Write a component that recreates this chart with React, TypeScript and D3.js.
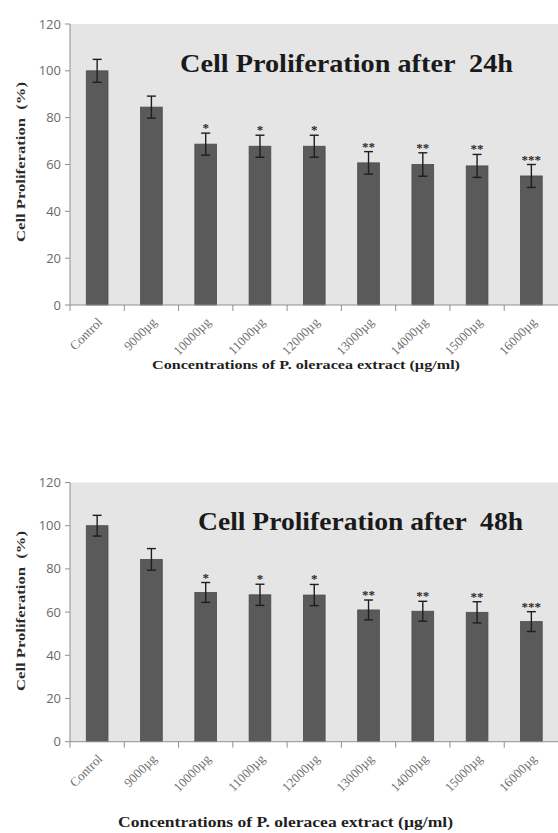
import React from "react";
import * as d3 from "d3";

const categories = ["Control", "9000µg", "10000µg", "11000µg", "12000µg", "13000µg", "14000µg", "15000µg", "16000µg"];
const values24 = [100, 84.5, 68.7, 67.8, 67.8, 60.7, 60, 59.4, 55.1];
const errors24 = [4.9, 4.7, 4.7, 4.7, 4.7, 4.8, 5, 4.9, 4.9];
const values48 = [100, 84.4, 69.1, 68, 67.9, 61, 60.4, 59.9, 55.6];
const errors48 = [4.8, 5, 4.6, 4.9, 4.9, 4.6, 4.6, 4.9, 4.6];
const stars = ["", "", "*", "*", "*", "**", "**", "**", "***"];
const yTicks = [0, 20, 40, 60, 80, 100, 120];

const W = 558;
const H = 833;

type Layout = {
  top: number;
  bottom: number;
  title: string;
  titleX: number;
  titleY: number;
  titleLen: number;
  yTitleY: number;
  xTitleX: number;
  xTitleY: number;
  xTitleLen: number;
  xTitleSize: number;
};

const PLOT_LEFT = 70;
const PLOT_RIGHT = 558.5;

function Chart({ values, errors, L }: { values: number[]; errors: number[]; L: Layout }) {
  const x = d3.scaleBand<string>().domain(categories).range([PLOT_LEFT, PLOT_RIGHT]).paddingInner(0.6).paddingOuter(0.3);
  const xb = d3.scaleBand<string>().domain(categories).range([PLOT_LEFT, PLOT_RIGHT]);
  const y = d3.scaleLinear().domain([0, 120]).range([L.bottom, L.top]);
  const axisColor = "#8f8f8f";
  const labelColor = "#6a6a6a";
  return (
    <g>
      <rect x={PLOT_LEFT} y={L.top} width={PLOT_RIGHT - PLOT_LEFT} height={L.bottom - L.top} fill="#e5e5e5" />
      {categories.map((c, i) => (
        <rect
          key={c}
          x={x(c)}
          y={y(values[i])}
          width={x.bandwidth()}
          height={L.bottom - y(values[i])}
          fill="#5a5a5a"
          stroke="#4c4c4c"
          strokeWidth={0.8}
        />
      ))}
      {categories.map((c, i) => {
        const cx = (x(c) as number) + x.bandwidth() / 2;
        const yt = y(values[i] + errors[i]);
        const yb = y(values[i] - errors[i]);
        return (
          <g key={"e" + c} stroke="#1e1e1e" strokeWidth={1.4}>
            <line x1={cx} x2={cx} y1={yt} y2={yb} />
            <line x1={cx - 4.5} x2={cx + 4.5} y1={yt} y2={yt} />
            <line x1={cx - 4.5} x2={cx + 4.5} y1={yb} y2={yb} />
          </g>
        );
      })}
      {categories.map((c, i) => {
        const cx = (x(c) as number) + x.bandwidth() / 2;
        return (
          <text
            key={"s" + c}
            x={cx}
            y={y(values[i] + errors[i]) - 1}
            textAnchor="middle"
            fontFamily="Liberation Serif, serif"
            fontWeight="bold"
            fontSize={13}
            fill="#2a2a2a"
          >
            {stars[i]}
          </text>
        );
      })}
      {/* y axis */}
      <line x1={PLOT_LEFT} x2={PLOT_LEFT} y1={L.top} y2={L.bottom} stroke={axisColor} strokeWidth={1} />
      {yTicks.map((t) => (
        <g key={"yt" + t}>
          <line x1={PLOT_LEFT - 5} x2={PLOT_LEFT} y1={y(t)} y2={y(t)} stroke={axisColor} />
          <text
            x={PLOT_LEFT - 9}
            y={y(t)}
            dy="0.35em"
            textAnchor="end"
            fontFamily="Open Sans, sans-serif"
            fontSize={13}
            fill={labelColor}
          >
            {t}
          </text>
        </g>
      ))}
      {/* x axis */}
      <line x1={PLOT_LEFT} x2={PLOT_RIGHT} y1={L.bottom} y2={L.bottom} stroke={axisColor} strokeWidth={1} />
      {categories.map((c) => (
        <line
          key={"xt" + c}
          x1={xb(c) as number}
          x2={xb(c) as number}
          y1={L.bottom}
          y2={L.bottom + 6}
          stroke={axisColor}
        />
      ))}
      {categories.map((c) => {
        const cx = (xb(c) as number) + xb.bandwidth() / 2 + 6;
        const ty = L.bottom + 18;
        return (
          <text
            key={"xl" + c}
            transform={`translate(${cx},${ty}) rotate(-45)`}
            textAnchor="end"
            fontFamily="Liberation Serif, serif"
            fontSize={13}
            fill="#707070"
          >
            {c}
          </text>
        );
      })}
      {/* title */}
      <text
        x={L.titleX}
        y={L.titleY}
        fontFamily="Liberation Serif, serif"
        fontWeight="bold"
        fontSize={25}
        fill="#1a1a1a"
        textLength={L.titleLen}
        lengthAdjust="spacingAndGlyphs"
        style={{ whiteSpace: "pre" }}
      >
        {L.title}
      </text>
      {/* y title */}
      <text
        transform={`translate(25,${L.yTitleY}) rotate(-90)`}
        textAnchor="middle"
        fontFamily="Liberation Serif, serif"
        fontWeight="bold"
        fontSize={13.5}
        fill="#2a2a2a"
        textLength={160}
        lengthAdjust="spacingAndGlyphs"
        style={{ whiteSpace: "pre" }}
      >
        Cell Proliferation  (%)
      </text>
      {/* x title */}
      <text
        x={L.xTitleX}
        y={L.xTitleY}
        fontFamily="Liberation Serif, serif"
        fontWeight="bold"
        fontSize={L.xTitleSize}
        fill="#1f1f1f"
        textLength={L.xTitleLen}
        lengthAdjust="spacingAndGlyphs"
      >
        Concentrations of P. oleracea extract (µg/ml)
      </text>
    </g>
  );
}

const layoutTop: Layout = {
  top: 24,
  bottom: 305,
  title: "Cell Proliferation after  24h",
  titleX: 180,
  titleY: 72,
  titleLen: 333,
  yTitleY: 162,
  xTitleX: 152,
  xTitleY: 369,
  xTitleLen: 308,
  xTitleSize: 13.5,
};

const layoutBottom: Layout = {
  top: 482.5,
  bottom: 741.7,
  title: "Cell Proliferation after  48h",
  titleX: 198,
  titleY: 530,
  titleLen: 325,
  yTitleY: 611,
  xTitleX: 118,
  xTitleY: 827,
  xTitleLen: 335,
  xTitleSize: 15,
};

export default function App() {
  return (
    <svg
      width={W}
      height={H}
      viewBox={`0 0 ${W} ${H}`}
      style={{ position: "absolute", left: 0, top: 0, background: "#ffffff" }}
    >
      <rect width={W} height={H} fill="#ffffff" />
      <Chart values={values24} errors={errors24} L={layoutTop} />
      <Chart values={values48} errors={errors48} L={layoutBottom} />
    </svg>
  );
}
